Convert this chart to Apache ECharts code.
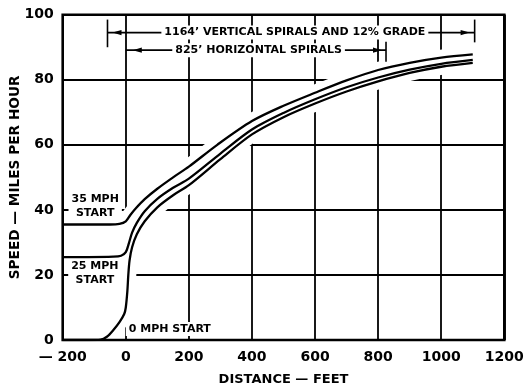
<!DOCTYPE html>
<html>
<head>
<meta charset="utf-8">
<script src="https://cdn.jsdelivr.net/npm/echarts/dist/echarts.min.js"></script>
<style>
  html, body { margin: 0; padding: 0; background: #fff; }
  #chart { width: 526px; height: 387px; }
</style>
</head>
<body>
<div id="chart"></div>
<script>
// Axis ranges (feet / mph)
const xTicks = [-200, 0, 200, 400, 600, 800, 1000, 1200];
const yTicks = [0, 20, 40, 60, 80, 100];

// Speed vs distance for the three entry speeds: [feet, mph]
const start35 = [
  [-200, 35.5], [-120, 35.5], [-50, 35.5], [-20, 35.7], [0, 36.5], [15, 38.5],
  [32, 40.5], [60, 43.3], [100, 46.5], [150, 50], [200, 53.3], [290, 60],
  [400, 67.3], [500, 72], [600, 76], [700, 79.8], [800, 83], [900, 85.2],
  [1000, 86.8], [1100, 87.8]
];
const start25 = [
  [-200, 25.5], [-120, 25.5], [-40, 25.6], [-15, 25.9], [0, 27], [10, 29.8],
  [20, 33], [35, 36], [60, 39.6], [100, 43.4], [150, 46.8], [200, 49.6],
  [300, 57.3], [400, 64.7], [500, 69.8], [600, 74], [700, 77.7], [800, 80.7],
  [900, 83.1], [1000, 84.9], [1100, 86.1]
];
const start0 = [
  [-200, 0], [-120, 0], [-80, 0.1], [-60, 1], [-40, 3], [-20, 5.5], [-5, 8],
  [0, 10], [5, 15], [8, 20], [12, 24.5], [20, 28.5], [35, 32.5], [60, 36.5],
  [100, 40.8], [150, 44.5], [200, 47.6], [300, 55.6], [400, 63.2], [500, 68.5],
  [600, 72.7], [700, 76.4], [800, 79.5], [900, 82.1], [1000, 84], [1100, 85.2]
];

// Dimension spans along the top (feet)
const verticalSpiralSpan = [-58, 1106];
const horizontalSpiralSpan = [0, 825];

const FONT = '"DejaVu Sans", "Liberation Sans", sans-serif';
const chart = echarts.init(document.getElementById('chart'), null, { renderer: 'canvas' });

const curves = [start35, start25, start0];

const haloSeries = curves.map(d => ({
  type: 'line', data: d, smooth: 0.3, symbol: 'none',
  silent: true, z: 2, lineStyle: { color: '#fff', width: 16 }
}));
const curveSeries = curves.map(d => ({
  type: 'line', data: d, smooth: 0.3, symbol: 'none',
  silent: true, z: 3, lineStyle: { color: '#000', width: 2.3 }
}));

chart.setOption({
  animation: false,
  backgroundColor: '#fff',
  grid: { left: 62.7, right: 21.7, top: 14.7, bottom: 47, show: false,
          containLabel: false, outerBoundsMode: 'none' },
  xAxis: {
    type: 'value', min: xTicks[0], max: xTicks[xTicks.length - 1], interval: 200,
    axisLine: { show: false }, axisTick: { show: false },
    splitLine: { show: true, lineStyle: { color: '#000', width: 1.8 } },
    axisLabel: {
      margin: 10, color: '#000', fontFamily: FONT, fontWeight: 'bold', fontSize: 14,
      formatter: v => v < 0 ? '\u2014 ' + (-v) : String(v)
    },
    name: 'DISTANCE \u2014 FEET', nameLocation: 'middle', nameGap: 33, nameMoveOverlap: false,
    nameTextStyle: { color: '#000', fontFamily: FONT, fontWeight: 'bold', fontSize: 13 }
  },
  yAxis: {
    type: 'value', min: yTicks[0], max: yTicks[yTicks.length - 1], interval: 20,
    axisLine: { show: false }, axisTick: { show: false },
    splitLine: { show: true, lineStyle: { color: '#000', width: 1.8 } },
    axisLabel: { margin: 9, color: '#000', fontFamily: FONT, fontWeight: 'bold', fontSize: 14 },
    name: 'SPEED \u2014 MILES PER HOUR', nameLocation: 'middle', nameGap: 40, nameMoveOverlap: false,
    nameTextStyle: { color: '#000', fontFamily: FONT, fontWeight: 'bold', fontSize: 13.7 }
  },
  series: haloSeries.concat(curveSeries)
});

// Overlay: plot frame, dimension lines and curve labels
const px = (x, y) => chart.convertToPixel({ gridIndex: 0 }, [x, y]);
const g = [];
const LW = 1.6;

function seg(a, b, w) {
  g.push({ type: 'line', z: 50, shape: { x1: a[0], y1: a[1], x2: b[0], y2: b[1] },
           style: { stroke: '#000', lineWidth: w || LW } });
}
function arrow(tip, dir) {
  // dir: -1 points left, +1 points right
  const len = 9, hw = 2.6;
  g.push({ type: 'polygon', z: 51,
    shape: { points: [[tip[0], tip[1]], [tip[0] - dir * len, tip[1] - hw], [tip[0] - dir * len, tip[1] + hw]] },
    style: { fill: '#000' } });
}
function label(text, at, align, size) {
  g.push({ type: 'text', z: 60, x: at[0], y: at[1],
    style: { text: text, font: 'bold ' + (size || 11) + 'px ' + FONT, fill: '#000',
             align: align || 'center', verticalAlign: 'middle', lineHeight: 14,
             backgroundColor: '#fff', padding: [0, 3] } });
}

// frame
const tl = px(xTicks[0], yTicks[yTicks.length - 1]);
const br = px(xTicks[xTicks.length - 1], yTicks[0]);
g.push({ type: 'rect', z: 40, shape: { x: tl[0], y: tl[1], width: br[0] - tl[0], height: br[1] - tl[1] },
         style: { fill: null, stroke: '#000', lineWidth: 2.6 } });

// 1164' vertical spirals span
{
  const y = 94.5;
  const a = px(verticalSpiralSpan[0], y), b = px(verticalSpiralSpan[1], y);
  seg(a, b);
  seg(px(verticalSpiralSpan[0], 98.5), px(verticalSpiralSpan[0], 90));
  seg(px(verticalSpiralSpan[1], 98.5), px(verticalSpiralSpan[1], 91.5));
  arrow([a[0] + 5, a[1]], -1);
  arrow([b[0] - 5, b[1]], 1);
  label('1164\u2019 VERTICAL SPIRALS AND 12% GRADE', px(536, y));
}
// 825' horizontal spirals span
{
  const y = 89.1;
  const a = px(horizontalSpiralSpan[0], y), b = px(horizontalSpiralSpan[1], y);
  seg(a, b);
  seg(px(horizontalSpiralSpan[1], 91.7), px(horizontalSpiralSpan[1], 85.5));
  arrow([a[0] + 7, a[1]], -1);
  arrow([b[0] - 4, b[1]], 1);
  label('825\u2019 HORIZONTAL SPIRALS', px(421, y));
}

// curve labels
label('35 MPH\nSTART', px(-97, 41.2));
label('25 MPH\nSTART', px(-98, 20.4));
label('0 MPH START', px(0, 3.4), 'left');

chart.setOption({ graphic: { elements: g } });
</script>
</body>
</html>
